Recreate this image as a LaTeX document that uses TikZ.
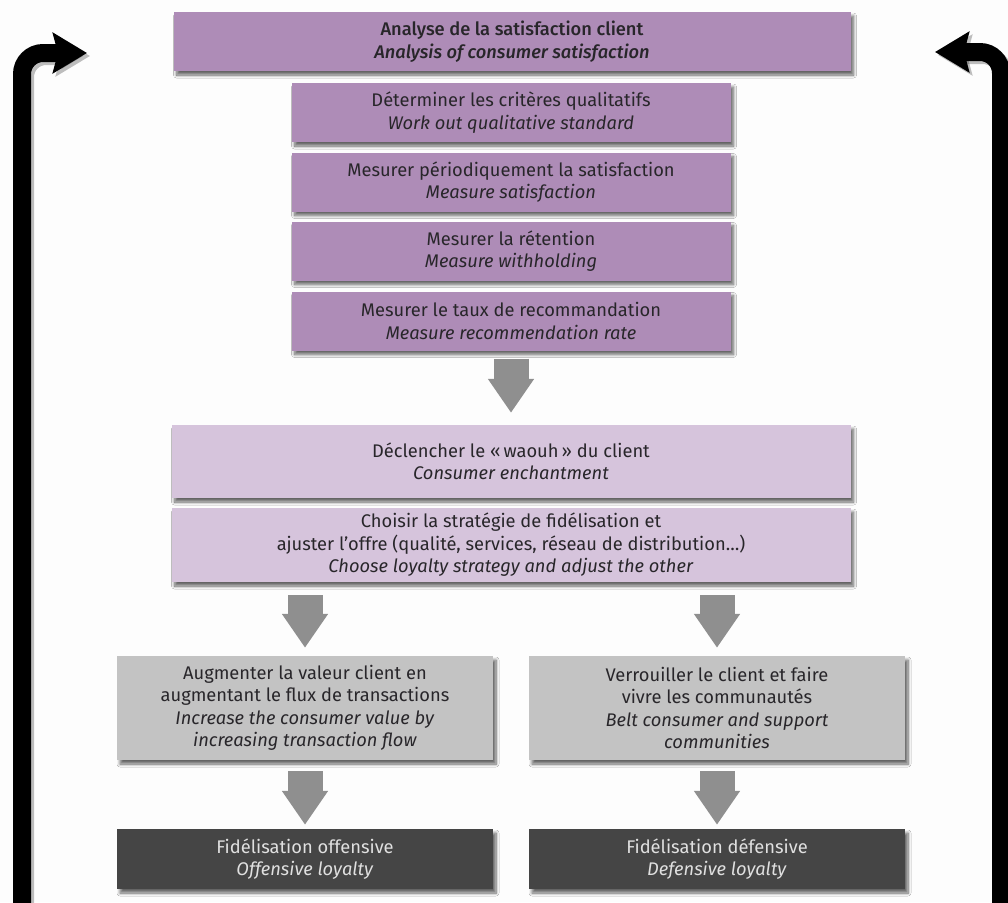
\documentclass[tikz,border=0pt]{standalone}
\usepackage{fontspec}
\setmainfont{Fira Sans}
\newfontfamily\medfont{Fira Sans Medium}
\usetikzlibrary{arrows.meta,shadows.blur,calc}

\definecolor{plum}{HTML}{AE8CB7}
\definecolor{lilac}{HTML}{D6C4DC}
\definecolor{stone}{HTML}{C3C3C3}
\definecolor{charcoal}{HTML}{454545}
\definecolor{arrowgray}{HTML}{8F8F8F}
\definecolor{ink}{HTML}{28262A}
\definecolor{paper}{HTML}{FDFDFD}

\tikzset{
  box/.style={rectangle, inner sep=0pt, align=center, text=ink,
    font=\fontsize{18.3}{22.5}\selectfont,
    blur shadow={shadow xshift=3pt, shadow yshift=-4pt,
      shadow blur steps=8, shadow blur radius=3pt, shadow opacity=60}},
  topbox/.style={box, fill=plum, minimum width=677pt, minimum height=59pt},
  stepbox/.style={box, fill=plum, minimum width=439pt, minimum height=59pt},
  midbox/.style={box, fill=lilac, minimum width=679pt},
  greybox/.style={box, fill=stone, minimum width=376pt, minimum height=104pt},
  darkbox/.style={box, fill=charcoal, text=white!88!black,
    minimum width=376pt, minimum height=60pt},
  blockarrow/.style={draw=arrowgray, line width=35pt,
    -{Triangle[length=34pt,width=44pt]}},
  loopline/.style={line width=18pt, rounded corners=21pt,
    -{Stealth[length=34pt,width=40pt,inset=5pt]}},
  loopshade/.style={loopline, draw=black, opacity=0.25,
    transform canvas={shift={(3pt,-3pt)}}},
}

\begin{document}
\begin{tikzpicture}[x=1pt,y=-1pt]
\useasboundingbox (0,0) rectangle (1008,902);
\fill[paper] (0,0) rectangle (1008,902);

% return loops on both sides
\coordinate (lb) at (22,915);
\coordinate (lt) at (87,53);
\coordinate (rb) at (1001,915);
\coordinate (rt) at (935,52);
\draw[loopshade] (lb) |- (lt);
\draw[loopshade] (rb) |- (rt);
\draw[loopline] (lb) |- (lt);
\draw[loopline] (rb) |- (rt);

% analysis block
\node[topbox] (t) at (512,41.5)
  {{\medfont Analyse de la satisfaction client}\\
   {\medfont\itshape Analysis of consumer satisfaction}};
\node[stepbox] (s1) at (511,112.5)
  {Déterminer les critères qualitatifs\\ \textit{Work out qualitative standard}};
\node[stepbox] (s2) at (511,182)
  {Mesurer périodiquement la satisfaction\\ \textit{Measure satisfaction}};
\node[stepbox] (s3) at (511,251)
  {Mesurer la rétention\\ \textit{Measure withholding}};
\node[stepbox] (s4) at (511,321)
  {Mesurer le taux de recommandation\\ \textit{Measure recommendation rate}};

% strategy block
\node[midbox, minimum height=73pt] (m1) at (511,461.5)
  {Déclencher le «\,waouh\,» du client\\ \textit{Consumer enchantment}};
\node[midbox, minimum height=74pt] (m2) at (511,545)
  {Choisir la stratégie de fidélisation et\\
   ajuster l’offre (qualité, services, réseau de distribution…)\\
   \textit{Choose loyalty strategy and adjust the other}};

% two branches
\node[greybox] (g1) at (305,708)
  {Augmenter la valeur client en\\ augmentant le flux de transactions\\
   \textit{Increase the consumer value by}\\ \textit{increasing transaction flow}};
\node[greybox] (g2) at (717,708)
  {Verrouiller le client et faire\\ vivre les communautés\\
   \textit{Belt consumer and support}\\ \textit{communities}};
\node[darkbox] (d1) at (305,859)
  {Fidélisation offensive\\ \textit{Offensive loyalty}};
\node[darkbox] (d2) at (717,859)
  {Fidélisation défensive\\ \textit{Defensive loyalty}};

% flow arrows
\draw[blockarrow, shorten <=8pt, shorten >=12pt] (s4.south) -- (m1.north);
\draw[blockarrow, shorten <=13pt, shorten >=8pt] (g1.north |- m2.south) -- (g1.north);
\draw[blockarrow, shorten <=13pt, shorten >=8pt] (g2.north |- m2.south) -- (g2.north);
\draw[blockarrow, shorten <=11pt, shorten >=4pt] (g1.south) -- (d1.north);
\draw[blockarrow, shorten <=11pt, shorten >=4pt] (g2.south) -- (d2.north);
\end{tikzpicture}
\end{document}
